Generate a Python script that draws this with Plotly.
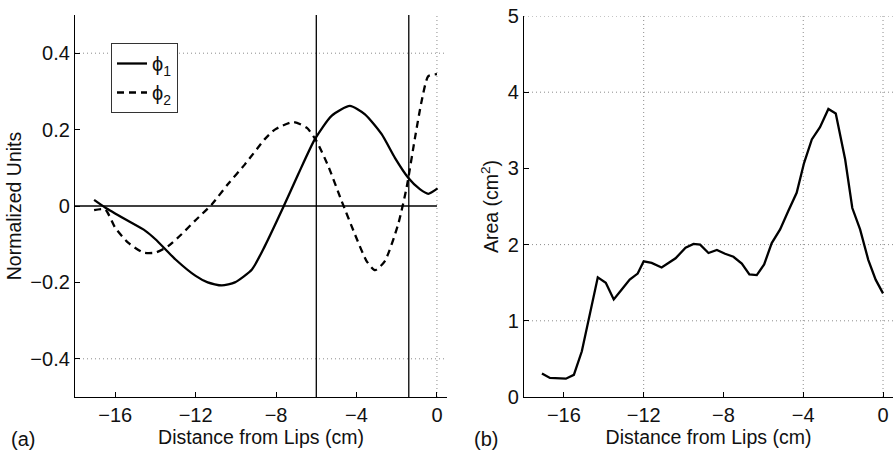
import plotly.graph_objects as go

# ---- Panel (a): mode shapes ----
phi1_x = [-17.05, -16.5, -15.5, -14.5, -14.0, -13.0, -12.0, -11.4, -10.7, -10.05, -9.2, -8.56,
          -7.65, -6.9, -6.07, -5.24, -4.33, -3.58, -2.75, -2.09, -1.43, -0.85, -0.43, 0.03]
phi1_y = [0.016, -0.004, -0.035, -0.065, -0.087, -0.14, -0.183, -0.2, -0.208, -0.2, -0.166, -0.105,
          -0.004, 0.083, 0.175, 0.236, 0.262, 0.24, 0.188, 0.126, 0.074, 0.044, 0.032, 0.046]

phi2_x = [-17.05, -16.5, -16.0, -15.36, -14.6, -14.0, -13.37, -12.7, -12.04, -11.2, -10.4, -9.55,
          -8.56, -8.06, -7.15, -6.48, -5.99, -5.41, -4.74, -4.08, -3.5, -3.08, -2.59, -1.93,
          -1.51, -1.09, -0.76, -0.43, 0.0]
phi2_y = [-0.011, -0.009, -0.057, -0.096, -0.122, -0.122, -0.105, -0.074, -0.039, 0.004, 0.057, 0.109,
          0.175, 0.2, 0.22, 0.205, 0.17, 0.105, 0.013, -0.074, -0.144, -0.168, -0.144, -0.048,
          0.048, 0.179, 0.275, 0.34, 0.345]

marker_lines_x = [-6.0, -1.4]

# ---- Panel (b): area function ----
area_x = [-17.1, -16.7, -15.9, -15.5, -15.1, -14.8, -14.3, -13.9, -13.5, -13.1, -12.7, -12.3, -12.0,
          -11.6, -11.1, -10.4, -9.9, -9.5, -9.17, -8.75, -8.33, -7.92, -7.5, -7.08, -6.7, -6.33,
          -5.96, -5.58, -5.16, -4.75, -4.33, -3.96, -3.57, -3.16, -2.74, -2.37, -1.9, -1.54,
          -1.15, -0.74, -0.37, 0.0]
area_y = [0.31, 0.25, 0.24, 0.29, 0.60, 0.97, 1.57, 1.50, 1.28, 1.41, 1.54, 1.62, 1.78,
          1.76, 1.70, 1.82, 1.96, 2.01, 2.0, 1.89, 1.93, 1.88, 1.84, 1.75, 1.61, 1.60,
          1.74, 2.02, 2.20, 2.44, 2.68, 3.07, 3.38, 3.54, 3.78, 3.72, 3.12, 2.48,
          2.20, 1.80, 1.54, 1.36]

x_ticks = [-16, -12, -8, -4, 0]
x_ticktext = ["\u221216", "\u221212", "\u22128", "\u22124", "0"]
a_yticks = [-0.4, -0.2, 0, 0.2, 0.4]
a_yticktext = ["\u22120.4", "\u22120.2", "0", "0.2", "0.4"]
b_yticks = [0, 1, 2, 3, 4, 5]
a_grid_y = [-0.4, 0.4]
a_grid_x = [0]
b_grid_y = [1, 2, 4, 5]
b_grid_x = [-12, -4, 0]

FONT = "Liberation Sans, Arial, sans-serif"
W, H = 895, 454
TICK_SIZE = 20
TITLE_SIZE = 19.5

fig = go.Figure()
fig.add_trace(go.Scatter(x=phi1_x, y=phi1_y, mode="lines", name="\u03d5<sub>1</sub>",
                         line=dict(color="black", width=2.3, shape="spline", smoothing=0.6),
                         xaxis="x", yaxis="y"))
fig.add_trace(go.Scatter(x=phi2_x, y=phi2_y, mode="lines", name="\u03d5<sub>2</sub>",
                         line=dict(color="black", width=2.3, dash="7px,5px", shape="spline", smoothing=0.6),
                         xaxis="x", yaxis="y"))
fig.add_trace(go.Scatter(x=area_x, y=area_y, mode="lines", showlegend=False,
                         line=dict(color="black", width=2.3),
                         xaxis="x2", yaxis="y2"))

shapes = []
grid_style = dict(color="#8c8c8c", width=1, dash="1px,3px")
for gy in a_grid_y:
    shapes.append(dict(type="line", xref="x", yref="y", x0=-18, x1=0.5, y0=gy, y1=gy, line=grid_style, layer="below"))
for gx in a_grid_x:
    shapes.append(dict(type="line", xref="x", yref="y", x0=gx, x1=gx, y0=-0.5, y1=0.5, line=grid_style, layer="below"))
for gy in b_grid_y:
    shapes.append(dict(type="line", xref="x2", yref="y2", x0=-18, x1=0.5, y0=gy, y1=gy, line=grid_style, layer="below"))
for gx in b_grid_x:
    shapes.append(dict(type="line", xref="x2", yref="y2", x0=gx, x1=gx, y0=0, y1=5, line=grid_style, layer="below"))
# zero line and vertical markers in panel (a)
shapes.append(dict(type="line", xref="x", yref="y", x0=-18, x1=0, y0=0, y1=0, line=dict(color="black", width=1.3)))
for vx in marker_lines_x:
    shapes.append(dict(type="line", xref="x", yref="y", x0=vx, x1=vx, y0=-0.5, y1=0.5, line=dict(color="black", width=1.3)))

axis_common = dict(showgrid=False, zeroline=False, showline=True, linecolor="black", linewidth=1.3,
                   ticks="inside", ticklen=5, tickcolor="black", tickwidth=1,
                   tickfont=dict(family=FONT, size=TICK_SIZE, color="#111"), automargin=False,
                   title_font=dict(family=FONT, size=TITLE_SIZE, color="#111"))

fig.update_layout(
    width=W, height=H, margin=dict(l=0, r=0, t=0, b=0),
    paper_bgcolor="white", plot_bgcolor="white",
    font=dict(family=FONT, size=TICK_SIZE, color="#111"),
    shapes=shapes,
    xaxis=dict(domain=[75 / W, 447 / W], range=[-18, 0.5], tickvals=x_ticks, ticktext=x_ticktext,
               title=dict(text="Distance from Lips (cm)", standoff=3), anchor="y", **axis_common),
    yaxis=dict(domain=[1 - 397 / H, 1 - 15 / H], range=[-0.5, 0.5], tickvals=a_yticks, ticktext=a_yticktext,
               title=dict(text="Normalized Units", standoff=3), anchor="x", **axis_common),
    xaxis2=dict(domain=[524 / W, 893 / W], range=[-18, 0.5], tickvals=x_ticks, ticktext=x_ticktext,
                title=dict(text="Distance from Lips (cm)", standoff=3), anchor="y2", **axis_common),
    yaxis2=dict(domain=[1 - 397 / H, 1 - 16 / H], range=[0, 5], tickvals=b_yticks,
                title=dict(text="Area (cm<sup>2</sup>)", standoff=3), anchor="x2", **axis_common),
    legend=dict(x=111 / W, y=1 - 43 / H, xanchor="left", yanchor="top",
                bordercolor="#333", borderwidth=1, bgcolor="white",
                font=dict(family=FONT, size=20, color="#111"), tracegroupgap=8),
    annotations=[
        dict(text="(a)", xref="paper", yref="paper", x=9 / W, y=1 - 439 / H, xanchor="left", yanchor="middle",
             showarrow=False, font=dict(family=FONT, size=20, color="#111")),
        dict(text="(b)", xref="paper", yref="paper", x=472 / W, y=1 - 439 / H, xanchor="left", yanchor="middle",
             showarrow=False, font=dict(family=FONT, size=20, color="#111")),
    ],
)

fig.write_html("out.html")
